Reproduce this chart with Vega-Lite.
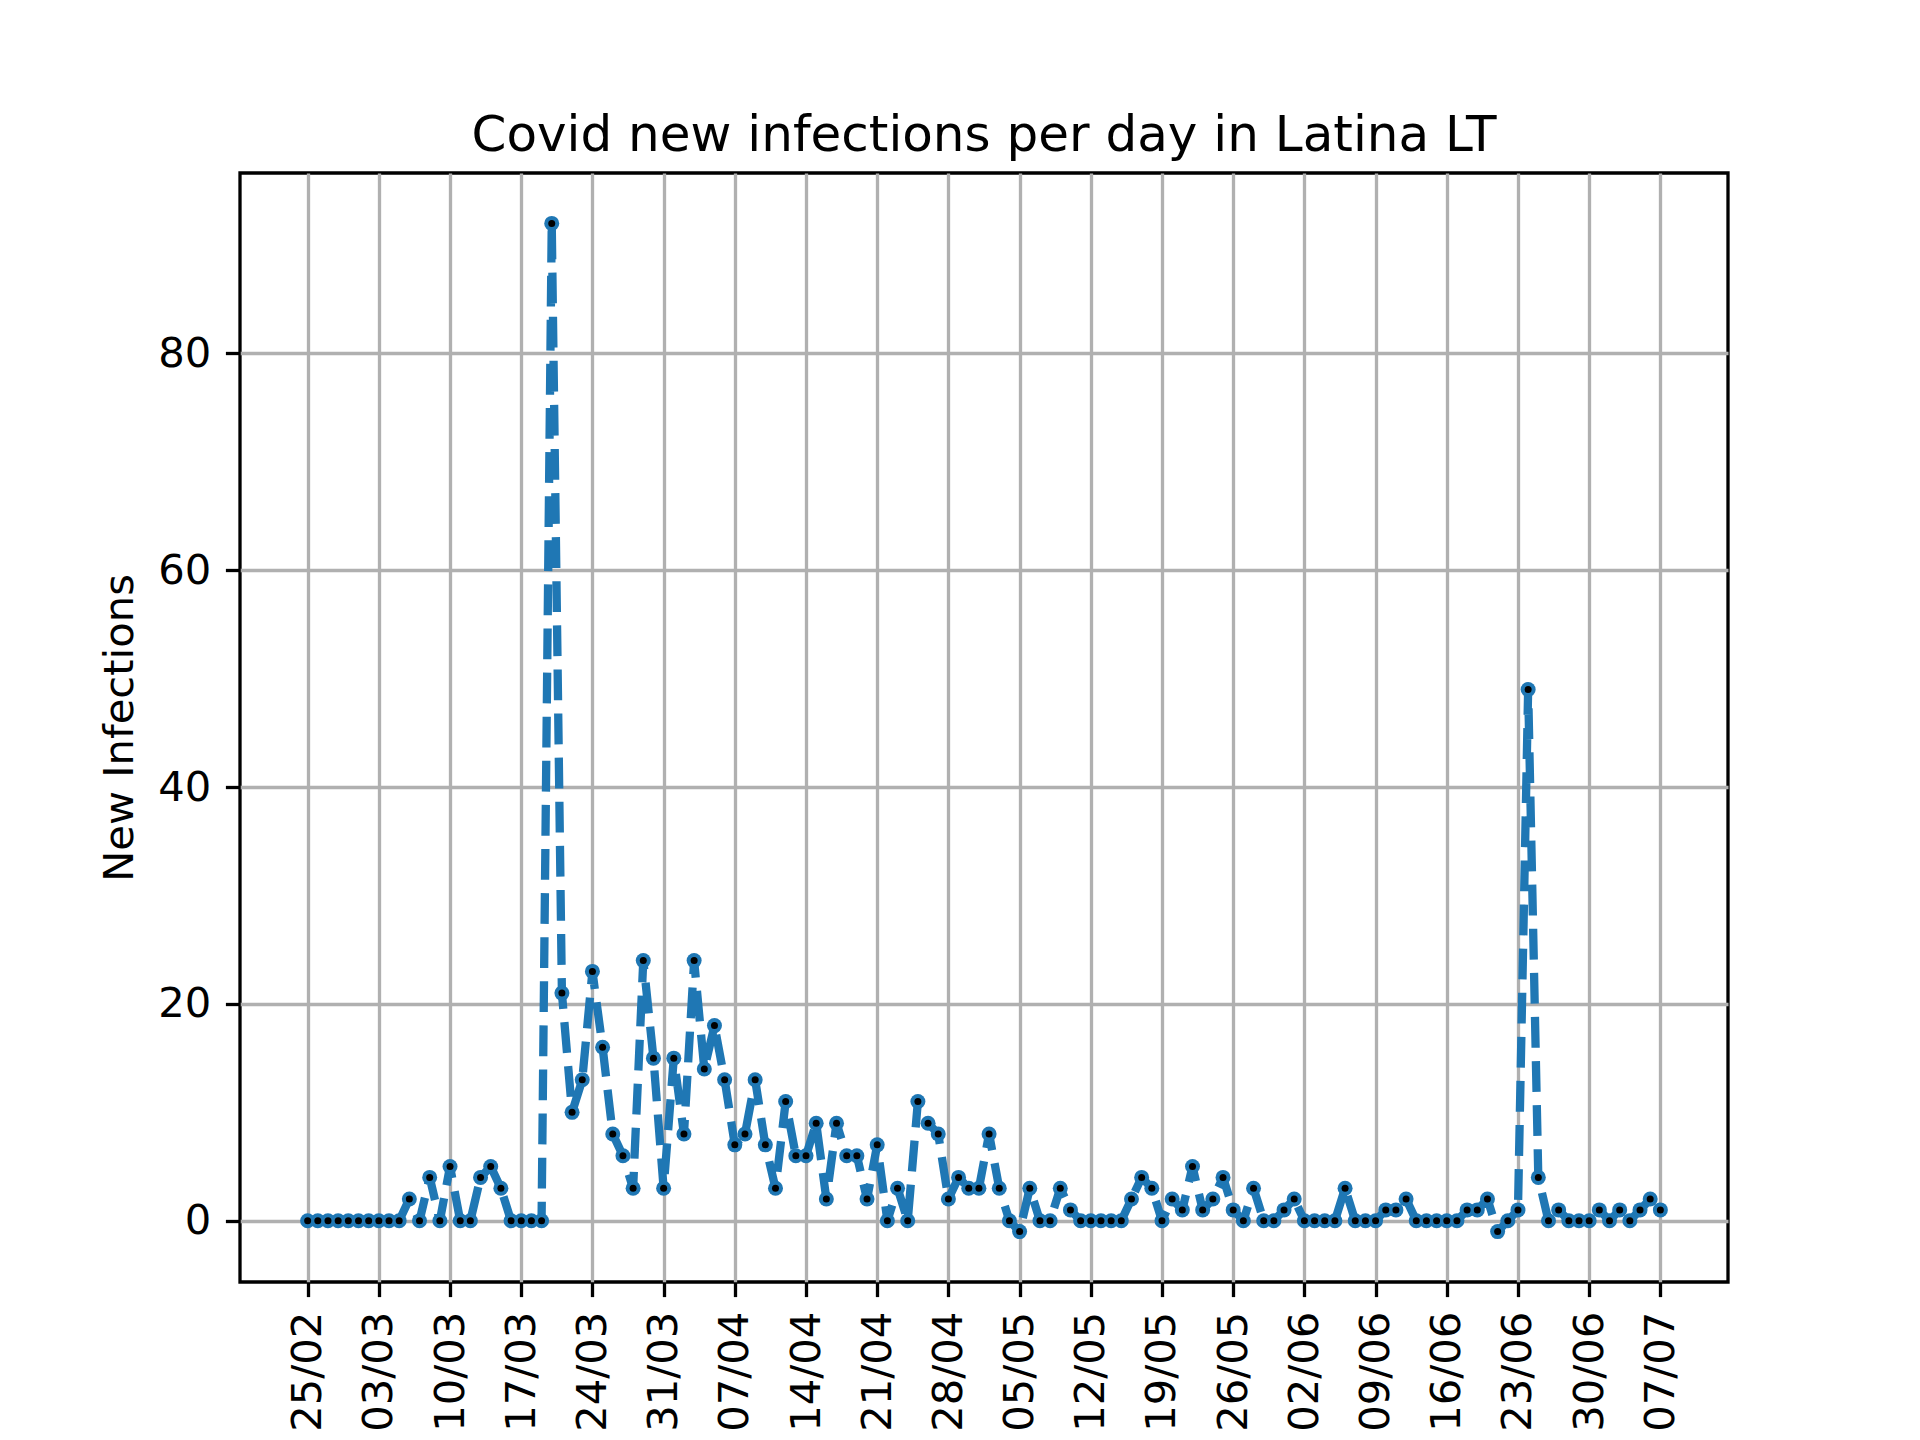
{
  "$schema": "https://vega.github.io/schema/vega-lite/v6.json",
  "width": 1488,
  "height": 1109,
  "autosize": {"type": "none"},
  "padding": {"left": 240, "top": 173, "right": 192, "bottom": 158},
  "background": "white",
  "title": {
    "text": "Covid new infections per day in Latina LT",
    "fontSize": 50,
    "font": "DejaVu Sans",
    "fontWeight": "normal",
    "color": "black",
    "anchor": "middle",
    "offset": 12
  },
  "data": {
    "values": [
      {"date": "2020-02-25", "cases": 0}, {"date": "2020-02-26", "cases": 0}, {"date": "2020-02-27", "cases": 0},
      {"date": "2020-02-28", "cases": 0}, {"date": "2020-02-29", "cases": 0}, {"date": "2020-03-01", "cases": 0},
      {"date": "2020-03-02", "cases": 0}, {"date": "2020-03-03", "cases": 0}, {"date": "2020-03-04", "cases": 0},
      {"date": "2020-03-05", "cases": 0}, {"date": "2020-03-06", "cases": 2}, {"date": "2020-03-07", "cases": 0},
      {"date": "2020-03-08", "cases": 4}, {"date": "2020-03-09", "cases": 0}, {"date": "2020-03-10", "cases": 5},
      {"date": "2020-03-11", "cases": 0}, {"date": "2020-03-12", "cases": 0}, {"date": "2020-03-13", "cases": 4},
      {"date": "2020-03-14", "cases": 5}, {"date": "2020-03-15", "cases": 3}, {"date": "2020-03-16", "cases": 0},
      {"date": "2020-03-17", "cases": 0}, {"date": "2020-03-18", "cases": 0}, {"date": "2020-03-19", "cases": 0},
      {"date": "2020-03-20", "cases": 92}, {"date": "2020-03-21", "cases": 21}, {"date": "2020-03-22", "cases": 10},
      {"date": "2020-03-23", "cases": 13}, {"date": "2020-03-24", "cases": 23}, {"date": "2020-03-25", "cases": 16},
      {"date": "2020-03-26", "cases": 8}, {"date": "2020-03-27", "cases": 6}, {"date": "2020-03-28", "cases": 3},
      {"date": "2020-03-29", "cases": 24}, {"date": "2020-03-30", "cases": 15}, {"date": "2020-03-31", "cases": 3},
      {"date": "2020-04-01", "cases": 15}, {"date": "2020-04-02", "cases": 8}, {"date": "2020-04-03", "cases": 24},
      {"date": "2020-04-04", "cases": 14}, {"date": "2020-04-05", "cases": 18}, {"date": "2020-04-06", "cases": 13},
      {"date": "2020-04-07", "cases": 7}, {"date": "2020-04-08", "cases": 8}, {"date": "2020-04-09", "cases": 13},
      {"date": "2020-04-10", "cases": 7}, {"date": "2020-04-11", "cases": 3}, {"date": "2020-04-12", "cases": 11},
      {"date": "2020-04-13", "cases": 6}, {"date": "2020-04-14", "cases": 6}, {"date": "2020-04-15", "cases": 9},
      {"date": "2020-04-16", "cases": 2}, {"date": "2020-04-17", "cases": 9}, {"date": "2020-04-18", "cases": 6},
      {"date": "2020-04-19", "cases": 6}, {"date": "2020-04-20", "cases": 2}, {"date": "2020-04-21", "cases": 7},
      {"date": "2020-04-22", "cases": 0}, {"date": "2020-04-23", "cases": 3}, {"date": "2020-04-24", "cases": 0},
      {"date": "2020-04-25", "cases": 11}, {"date": "2020-04-26", "cases": 9}, {"date": "2020-04-27", "cases": 8},
      {"date": "2020-04-28", "cases": 2}, {"date": "2020-04-29", "cases": 4}, {"date": "2020-04-30", "cases": 3},
      {"date": "2020-05-01", "cases": 3}, {"date": "2020-05-02", "cases": 8}, {"date": "2020-05-03", "cases": 3},
      {"date": "2020-05-04", "cases": 0}, {"date": "2020-05-05", "cases": -1}, {"date": "2020-05-06", "cases": 3},
      {"date": "2020-05-07", "cases": 0}, {"date": "2020-05-08", "cases": 0}, {"date": "2020-05-09", "cases": 3},
      {"date": "2020-05-10", "cases": 1}, {"date": "2020-05-11", "cases": 0}, {"date": "2020-05-12", "cases": 0},
      {"date": "2020-05-13", "cases": 0}, {"date": "2020-05-14", "cases": 0}, {"date": "2020-05-15", "cases": 0},
      {"date": "2020-05-16", "cases": 2}, {"date": "2020-05-17", "cases": 4}, {"date": "2020-05-18", "cases": 3},
      {"date": "2020-05-19", "cases": 0}, {"date": "2020-05-20", "cases": 2}, {"date": "2020-05-21", "cases": 1},
      {"date": "2020-05-22", "cases": 5}, {"date": "2020-05-23", "cases": 1}, {"date": "2020-05-24", "cases": 2},
      {"date": "2020-05-25", "cases": 4}, {"date": "2020-05-26", "cases": 1}, {"date": "2020-05-27", "cases": 0},
      {"date": "2020-05-28", "cases": 3}, {"date": "2020-05-29", "cases": 0}, {"date": "2020-05-30", "cases": 0},
      {"date": "2020-05-31", "cases": 1}, {"date": "2020-06-01", "cases": 2}, {"date": "2020-06-02", "cases": 0},
      {"date": "2020-06-03", "cases": 0}, {"date": "2020-06-04", "cases": 0}, {"date": "2020-06-05", "cases": 0},
      {"date": "2020-06-06", "cases": 3}, {"date": "2020-06-07", "cases": 0}, {"date": "2020-06-08", "cases": 0},
      {"date": "2020-06-09", "cases": 0}, {"date": "2020-06-10", "cases": 1}, {"date": "2020-06-11", "cases": 1},
      {"date": "2020-06-12", "cases": 2}, {"date": "2020-06-13", "cases": 0}, {"date": "2020-06-14", "cases": 0},
      {"date": "2020-06-15", "cases": 0}, {"date": "2020-06-16", "cases": 0}, {"date": "2020-06-17", "cases": 0},
      {"date": "2020-06-18", "cases": 1}, {"date": "2020-06-19", "cases": 1}, {"date": "2020-06-20", "cases": 2},
      {"date": "2020-06-21", "cases": -1}, {"date": "2020-06-22", "cases": 0}, {"date": "2020-06-23", "cases": 1},
      {"date": "2020-06-24", "cases": 49}, {"date": "2020-06-25", "cases": 4}, {"date": "2020-06-26", "cases": 0},
      {"date": "2020-06-27", "cases": 1}, {"date": "2020-06-28", "cases": 0}, {"date": "2020-06-29", "cases": 0},
      {"date": "2020-06-30", "cases": 0}, {"date": "2020-07-01", "cases": 1}, {"date": "2020-07-02", "cases": 0},
      {"date": "2020-07-03", "cases": 1}, {"date": "2020-07-04", "cases": 0}, {"date": "2020-07-05", "cases": 1},
      {"date": "2020-07-06", "cases": 2}, {"date": "2020-07-07", "cases": 1}
    ]
  },
  "encoding": {
    "x": {
      "field": "date",
      "type": "temporal",
      "title": null,
      "scale": {
        "type": "utc",
        "domain": [
          {"year": 2020, "month": 2, "date": 18, "hours": 8, "minutes": 24, "utc": true},
          {"year": 2020, "month": 7, "date": 13, "hours": 15, "minutes": 36, "utc": true}
        ]
      },
      "axis": {
        "labelExpr": "utcFormat(datum.value, '%d/%m')",
        "labelAngle": -90,
        "labelOverlap": false,
        "values": [
          {"year": 2020, "month": 2, "date": 25, "utc": true},
          {"year": 2020, "month": 3, "date": 3, "utc": true},
          {"year": 2020, "month": 3, "date": 10, "utc": true},
          {"year": 2020, "month": 3, "date": 17, "utc": true},
          {"year": 2020, "month": 3, "date": 24, "utc": true},
          {"year": 2020, "month": 3, "date": 31, "utc": true},
          {"year": 2020, "month": 4, "date": 7, "utc": true},
          {"year": 2020, "month": 4, "date": 14, "utc": true},
          {"year": 2020, "month": 4, "date": 21, "utc": true},
          {"year": 2020, "month": 4, "date": 28, "utc": true},
          {"year": 2020, "month": 5, "date": 5, "utc": true},
          {"year": 2020, "month": 5, "date": 12, "utc": true},
          {"year": 2020, "month": 5, "date": 19, "utc": true},
          {"year": 2020, "month": 5, "date": 26, "utc": true},
          {"year": 2020, "month": 6, "date": 2, "utc": true},
          {"year": 2020, "month": 6, "date": 9, "utc": true},
          {"year": 2020, "month": 6, "date": 16, "utc": true},
          {"year": 2020, "month": 6, "date": 23, "utc": true},
          {"year": 2020, "month": 6, "date": 30, "utc": true},
          {"year": 2020, "month": 7, "date": 7, "utc": true}
        ]
      }
    },
    "y": {
      "field": "cases",
      "type": "quantitative",
      "title": "New Infections",
      "scale": {"domain": [-5.65, 96.65], "nice": false, "zero": false},
      "axis": {"values": [0, 20, 40, 60, 80], "titlePadding": 16}
    }
  },
  "layer": [
    {
      "mark": {
        "type": "line",
        "color": "#1f77b4",
        "strokeWidth": 8.3,
        "strokeDash": [30.8, 13.3],
        "strokeCap": "butt",
        "strokeJoin": "round"
      }
    },
    {
      "mark": {"type": "point", "shape": "circle", "filled": true, "color": "#1f77b4", "size": 225, "opacity": 1}
    },
    {
      "mark": {"type": "point", "shape": "circle", "filled": true, "color": "black", "size": 49, "opacity": 1}
    }
  ],
  "config": {
    "font": "DejaVu Sans",
    "view": {"stroke": "black", "strokeWidth": 3.3},
    "axis": {
      "domain": false,
      "grid": true,
      "gridColor": "#b0b0b0",
      "gridWidth": 3.3,
      "gridOpacity": 1,
      "ticks": true,
      "tickColor": "black",
      "tickSize": 14.6,
      "tickWidth": 3.3,
      "labelPadding": 14.6,
      "labelFont": "DejaVu Sans",
      "labelFontSize": 41.7,
      "labelColor": "black",
      "titleFont": "DejaVu Sans",
      "titleFontSize": 41.7,
      "titleFontWeight": "normal",
      "titleColor": "black"
    }
  }
}
